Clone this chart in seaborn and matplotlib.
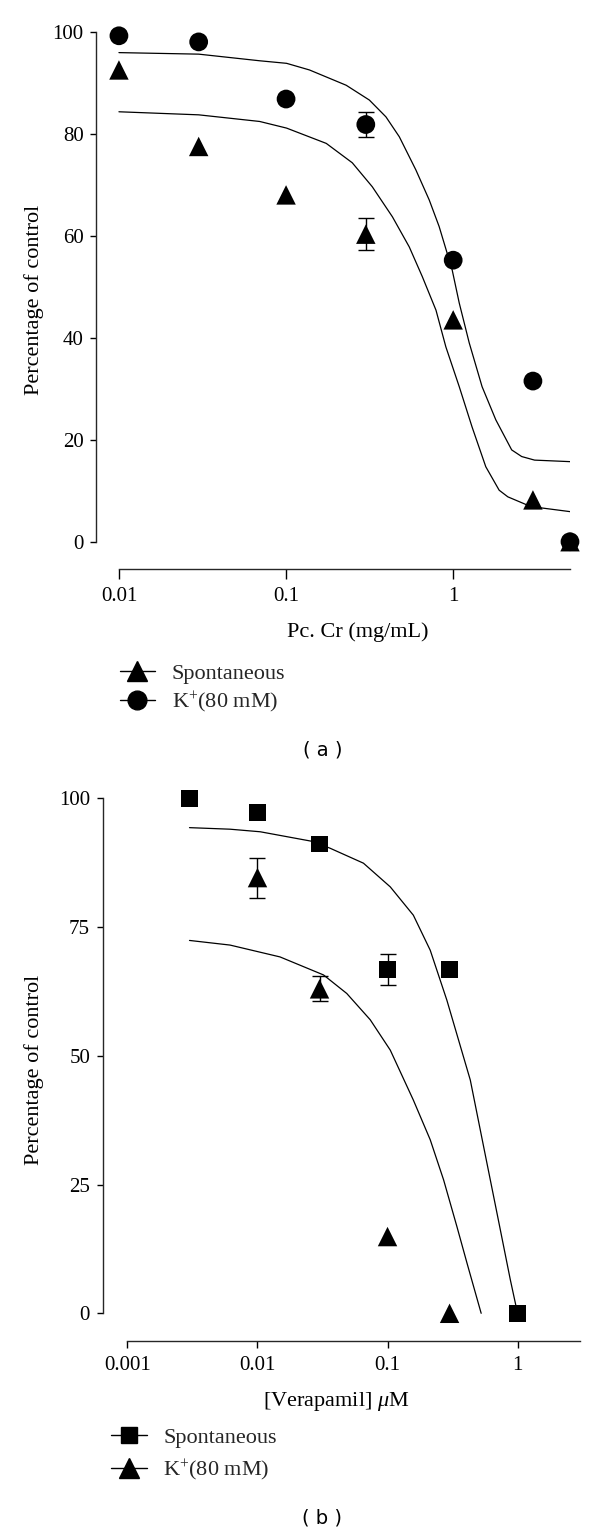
import numpy as np
import matplotlib
matplotlib.use("Agg")
import matplotlib.pyplot as plt
import seaborn as sns
from matplotlib.lines import Line2D

# ---- panel (a): Pc.Cr ----
a_conc = [0.01, 0.03, 0.1, 0.3, 1, 3, 5]
a_spont = [92.5, 77.5, 68.0, 60.3, 43.5, 8.2, 0.0]
a_spont_err = [0, 0, 0, 3.1, 0, 0, 0]
a_k = [99.2, 98.0, 86.8, 81.8, 55.2, 31.5, 0.0]
a_k_err = [0, 0, 0, 2.4, 0, 0, 0]

a_fit_k_x = [0.01, 0.030, 0.0695, 0.1007, 0.138, 0.229, 0.315, 0.396, 0.476, 0.598,
             0.719, 0.824, 0.986, 1.087, 1.247, 1.489, 1.799, 2.239, 2.57, 3.069, 5.0]
a_fit_k_y = [95.9, 95.6, 94.3, 93.8, 92.5, 89.5, 86.6, 83.3, 79.4, 72.9,
             67.0, 61.8, 53.3, 46.8, 39.0, 30.4, 23.9, 18.0, 16.7, 16.0, 15.7]
a_fit_s_x = [0.01, 0.030, 0.0695, 0.1007, 0.174, 0.249, 0.328, 0.433, 0.546, 0.653,
             0.789, 0.904, 1.087, 1.297, 1.567, 1.884, 2.123, 2.911, 5.0]
a_fit_s_y = [84.3, 83.7, 82.4, 81.1, 78.1, 74.3, 69.6, 63.7, 57.8, 52.0,
             45.4, 38.2, 30.4, 22.5, 14.7, 10.1, 8.8, 6.9, 5.9]

# ---- panel (b): verapamil ----
b_spont_conc = [0.003, 0.01, 0.03, 0.1, 0.3, 1]
b_spont = [100.0, 97.3, 91.1, 66.8, 66.8, 0.0]
b_spont_err = [0, 0, 0, 3.0, 0, 0]
b_k_conc = [0.01, 0.03, 0.1, 0.3]
b_k = [84.6, 63.0, 14.9, 0.0]
b_k_err = [3.9, 2.4, 0, 0]

b_fit_s_x = [0.003, 0.00615, 0.0105, 0.0269, 0.0362, 0.0653, 0.105, 0.158, 0.213,
             0.286, 0.433, 0.555, 0.703, 0.880, 1.0]
b_fit_s_y = [94.3, 94.0, 93.5, 91.6, 90.3, 87.4, 82.8, 77.3, 70.5,
             60.8, 45.3, 31.7, 18.8, 6.5, 0.0]
b_fit_k_x = [0.003, 0.00615, 0.0149, 0.0322, 0.0486, 0.0736, 0.105, 0.158, 0.213,
             0.270, 0.342, 0.409, 0.525]
b_fit_k_y = [72.4, 71.5, 69.2, 65.7, 62.1, 57.0, 51.1, 41.4, 33.7,
             25.9, 16.8, 9.7, 0.0]

sns.set_theme(style="ticks")
plt.rcParams["font.family"] = ["Liberation Serif", "DejaVu Serif"]
plt.rcParams["mathtext.fontset"] = "custom"
plt.rcParams["mathtext.rm"] = "Liberation Serif"
plt.rcParams["mathtext.it"] = "Liberation Serif:italic"
plt.rcParams["axes.linewidth"] = 1.0

LABEL_FS = 16
TICK_FS = 15


def draw_points(ax, x, y, err, marker, size):
    x = np.asarray(x, float)
    y = np.asarray(y, float)
    err = np.asarray(err, float)
    m = err > 0
    if m.any():
        ax.errorbar(x[m], y[m], yerr=err[m], fmt="none", ecolor="black",
                    elinewidth=1.0, capsize=6, capthick=1.0, zorder=3, clip_on=False)
    sns.scatterplot(x=x, y=y, marker=marker, s=size ** 2, color="black",
                    edgecolor="none", ax=ax, zorder=4, clip_on=False, legend=False)


def style_axes(ax, xlim, xbounds, xticks, xticklabels, yticks, ylim, xtick_len):
    ax.set_xscale("log")
    ax.set_xlim(*xlim)
    ax.set_ylim(*ylim)
    ax.set_xticks(xticks)
    ax.set_xticklabels(xticklabels)
    ax.xaxis.set_minor_locator(matplotlib.ticker.NullLocator())
    ax.set_yticks(yticks)
    ax.set_yticklabels([str(t) for t in yticks])
    for s in ["top", "right"]:
        ax.spines[s].set_visible(False)
    ax.spines["left"].set_bounds(0, 100)
    ax.spines["bottom"].set_bounds(*xbounds)
    ax.tick_params(axis="y", direction="out", length=4, width=1.0, pad=5,
                   labelsize=TICK_FS, colors="black")
    ax.tick_params(axis="x", direction="out", length=xtick_len, width=1.0, pad=6,
                   labelsize=TICK_FS, colors="black")


fig = plt.figure(figsize=(6.0, 15.33), dpi=100)

# ---------------- panel (a) ----------------
ax1 = fig.add_axes([0.16, 0.62883, 0.79, 0.35049])
ax1.set_xscale("log")
sns.lineplot(x=a_fit_k_x, y=a_fit_k_y, color="black", lw=0.9, ax=ax1,
             sort=False, estimator=None, zorder=2)
sns.lineplot(x=a_fit_s_x, y=a_fit_s_y, color="black", lw=0.9, ax=ax1,
             sort=False, estimator=None, zorder=2)
draw_points(ax1, a_conc, a_spont, a_spont_err, "^", 14)
draw_points(ax1, a_conc, a_k, a_k_err, "o", 13.5)
style_axes(ax1, (0.00729, 5.0), (0.01, 5.0), [0.01, 0.1, 1], ["0.01", "0.1", "1"],
           [0, 20, 40, 60, 80, 100], (-5.35, 100), 7)
ax1.set_xlabel("Pc. Cr (mg/mL)", fontsize=LABEL_FS, color="black")
ax1.set_ylabel("Percentage of control", fontsize=LABEL_FS, color="black")
ax1.xaxis.label.set_va("center")
ax1.yaxis.label.set_va("center")
ax1.xaxis.set_label_coords(0.552, -0.1167)
ax1.yaxis.set_label_coords(-0.130, 0.5)

handles_a = [Line2D([], [], color="black", lw=1.0, marker="^", markersize=14),
             Line2D([], [], color="black", lw=1.0, marker="o", markersize=13.5)]
fig.legend(handles_a, ["Spontaneous", "K$^{+}$(80 mM)"], loc="center left",
           bbox_to_anchor=(0.1995, 0.5506), frameon=False, fontsize=LABEL_FS,
           handlelength=1.6, handletextpad=0.75, labelspacing=0.25,
           borderpad=0, borderaxespad=0)
fig.text(0.5375, 1 - 750 / 1533, "( a )", ha="center", va="center",
         fontsize=14, family="DejaVu Sans", color="black")

# ---------------- panel (b) ----------------
ax2 = fig.add_axes([0.171, 0.12544, 0.795, 0.35382])
ax2.set_xscale("log")
sns.lineplot(x=b_fit_s_x, y=b_fit_s_y, color="black", lw=0.9, ax=ax2,
             sort=False, estimator=None, zorder=2)
sns.lineplot(x=b_fit_k_x, y=b_fit_k_y, color="black", lw=0.9, ax=ax2,
             sort=False, estimator=None, zorder=2)
draw_points(ax2, b_spont_conc, b_spont, b_spont_err, "s", 12)
draw_points(ax2, b_k_conc, b_k, b_k_err, "^", 14)
style_axes(ax2, (0.000644, 3.0), (0.001, 3.0), [0.001, 0.01, 0.1, 1],
           ["0.001", "0.01", "0.1", "1"], [0, 25, 50, 75, 100], (-5.32, 100), 5)
ax2.set_xlabel(r"[Verapamil] $\mathit{\mu}$M", fontsize=LABEL_FS, color="black")
ax2.set_ylabel("Percentage of control", fontsize=LABEL_FS, color="black")
ax2.xaxis.label.set_va("center")
ax2.yaxis.label.set_va("center")
ax2.xaxis.set_label_coords(0.489, -0.1125)
ax2.yaxis.set_label_coords(-0.1428, 0.5)

handles_b = [Line2D([], [], color="black", lw=1.0, marker="s", markersize=12),
             Line2D([], [], color="black", lw=1.0, marker="^", markersize=14)]
fig.legend(handles_b, ["Spontaneous", "K$^{+}$(80 mM)"], loc="center left",
           bbox_to_anchor=(0.185, 1 - 1455 / 1533), frameon=False, fontsize=LABEL_FS,
           handlelength=1.6, handletextpad=0.75, labelspacing=0.45,
           borderpad=0, borderaxespad=0)
fig.text(0.5375, 1 - 1518 / 1533, "( b )", ha="center", va="center",
         fontsize=14, family="DejaVu Sans", color="black")

fig.savefig("out.png", dpi=100, facecolor="white")
plt.close(fig)
